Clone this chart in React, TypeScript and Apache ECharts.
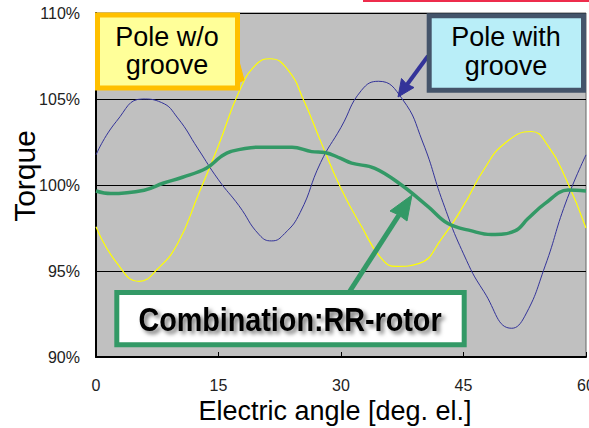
import React, { useEffect, useRef } from "react";
import * as echarts from "echarts";

// Pole with groove
const withGrooveAngles = [0, 2.5, 5.7, 8, 10, 12.5, 15, 17.5, 20, 21.5, 23.1, 25, 27.5, 30, 32.5, 34.6, 37.5, 40, 42.5, 45, 47.5, 50.9, 52.5, 55, 57.5, 60];
const withGrooveValues = [101.75, 103.7, 105.0, 104.8, 103.9, 102.1, 100.3, 98.8, 97.1, 96.75, 97.18, 98.4, 101.3, 103.35, 105.5, 106.03, 105.0, 102.5, 98.97, 96.0, 93.8, 91.67, 92.37, 95.3, 98.95, 101.75];
// Pole without groove
const withoutGrooveAngles = [0, 2.5, 5.3, 7.5, 10, 12.5, 15, 17.5, 19.5, 21.3, 23.5, 25.5, 27.5, 30, 32.5, 35, 36.8, 39.5, 42.5, 45, 47.5, 50, 53.3, 55.4, 57.5, 60];
const withoutGrooveValues = [97.57, 95.5, 94.4, 95.1, 96.6, 99.4, 102.3, 105.4, 106.95, 107.34, 106.7, 104.85, 102.55, 99.8, 97.6, 95.7, 95.27, 95.43, 97.0, 98.8, 100.9, 102.4, 103.11, 102.24, 100.4, 97.5];
// Combination: RR-rotor
const combinationAngles = [0, 1.8, 5.9, 8.2, 10.6, 13.5, 15.3, 16.5, 19.9, 24, 26.4, 28, 29.9, 31.3, 34.15, 37.4, 40.7, 43.1, 46, 48.4, 51.3, 52.9, 55, 57.8, 60];
const combinationValues = [99.65, 99.5, 99.7, 100.1, 100.45, 100.97, 101.65, 101.95, 102.2, 102.2, 101.94, 101.89, 101.56, 101.27, 100.97, 100.0, 98.73, 97.76, 97.33, 97.12, 97.33, 98.05, 98.93, 99.71, 99.65];

const yTicks = { min: 90, max: 110, interval: 5 };
const xTicks = { min: 0, max: 60, interval: 15 };

const pair = (xs: number[], vals: number[]) => xs.map((a, i) => [a, vals[i]]);

export default function App() {
  const ref = useRef<HTMLDivElement>(null);
  useEffect(() => {
    if (!ref.current) return;
    const chart = echarts.init(ref.current, undefined, { renderer: "svg" });
    const sans = "'Liberation Sans', Arial, sans-serif";
    chart.setOption({
      animation: false,
      backgroundColor: "#ffffff",
      grid: {
        left: 96,
        right: 3,
        top: 13,
        bottom: 71,
        containLabel: false,
        outerBoundsMode: "none",
        show: true,
        backgroundColor: "#c0c0c0",
        borderColor: "#666666",
        borderWidth: 1,
      },
      xAxis: {
        type: "value",
        min: xTicks.min,
        max: xTicks.max,
        interval: xTicks.interval,
        axisLine: { show: true, lineStyle: { color: "#000", width: 2 } },
        axisTick: { show: true, inside: true, length: 5, lineStyle: { color: "#000" } },
        splitLine: { show: false },
        axisLabel: { fontSize: 16, fontFamily: sans, color: "#222", margin: 20 },
      },
      yAxis: {
        type: "value",
        min: yTicks.min,
        max: yTicks.max,
        interval: yTicks.interval,
        axisLine: { show: true, lineStyle: { color: "#000", width: 2 } },
        axisTick: { show: true, inside: true, length: 5, lineStyle: { color: "#000" } },
        splitLine: { show: true, lineStyle: { color: "#000", width: 1 } },
        axisLabel: { fontSize: 16, fontFamily: sans, color: "#222", margin: 16, formatter: "{value}%" },
      },
      series: [
        {
          name: "Pole with groove",
          type: "line",
          data: pair(withGrooveAngles, withGrooveValues),
          smooth: 0.5,
          showSymbol: false,
          lineStyle: { color: "#333399", width: 1 },
        },
        {
          name: "Pole w/o groove",
          type: "line",
          data: pair(withoutGrooveAngles, withoutGrooveValues),
          smooth: 0.5,
          showSymbol: false,
          lineStyle: { color: "#ffff00", width: 1.2 },
        },
        {
          name: "Combination:RR-rotor",
          type: "line",
          data: pair(combinationAngles, combinationValues),
          smooth: 0.4,
          showSymbol: false,
          lineStyle: { color: "#339966", width: 3.5 },
        },
      ],
      graphic: [
        { type: "line", z: 100, shape: { x1: 363, y1: 1, x2: 589, y2: 1 }, style: { stroke: "#ee2c4c", lineWidth: 2 } },
        {
          type: "text",
          z: 100,
          x: 24,
          y: 176,
          rotation: Math.PI / 2,
          style: { text: "Torque", fontSize: 30, fontFamily: sans, fill: "#000", align: "center", verticalAlign: "middle" },
        },
        {
          type: "text",
          z: 100,
          x: 335,
          y: 411,
          style: { text: "Electric angle [deg. el.]", fontSize: 27, fontFamily: sans, fill: "#000", align: "center", verticalAlign: "middle" },
        },
        // Yellow callout
        {
          type: "polygon",
          z: 100,
          shape: { points: [[236, 50], [244, 80], [236, 84]] },
          style: { fill: "#ffc000", stroke: "#ffc000", lineWidth: 1 },
        },
        {
          type: "rect",
          z: 101,
          shape: { x: 97.5, y: 15, width: 140, height: 73 },
          style: { fill: "#ffff99", stroke: "#ffc000", lineWidth: 5 },
        },
        {
          type: "text",
          z: 102,
          x: 167,
          y: 37,
          style: { text: "Pole w/o", fontSize: 27, fontFamily: sans, fill: "#000", align: "center", verticalAlign: "middle" },
        },
        {
          type: "text",
          z: 102,
          x: 167,
          y: 65,
          style: { text: "groove", fontSize: 27, fontFamily: sans, fill: "#000", align: "center", verticalAlign: "middle" },
        },
        // Cyan callout
        { type: "line", z: 100, shape: { x1: 428, y1: 56, x2: 406, y2: 86 }, style: { stroke: "#333399", lineWidth: 4 } },
        {
          type: "polygon",
          z: 100,
          shape: { points: [[398, 97], [401.5, 78.5], [406.5, 84], [414, 87.5]] },
          style: { fill: "#333399", stroke: "#333399", lineWidth: 1 },
        },
        {
          type: "rect",
          z: 101,
          shape: { x: 429.2, y: 15.8, width: 154.3, height: 74.5 },
          style: { fill: "#b9eef8", stroke: "#44546a", lineWidth: 5 },
        },
        {
          type: "text",
          z: 102,
          x: 506,
          y: 37,
          style: { text: "Pole with", fontSize: 27, fontFamily: sans, fill: "#000", align: "center", verticalAlign: "middle" },
        },
        {
          type: "text",
          z: 102,
          x: 506,
          y: 66,
          style: { text: "groove", fontSize: 27, fontFamily: sans, fill: "#000", align: "center", verticalAlign: "middle" },
        },
        // Green callout
        { type: "line", z: 100, shape: { x1: 348, y1: 294, x2: 399, y2: 215 }, style: { stroke: "#339966", lineWidth: 5 } },
        {
          type: "polygon",
          z: 100,
          shape: { points: [[412, 195], [407, 221], [399, 215], [390, 211]] },
          style: { fill: "#339966", stroke: "#339966", lineWidth: 1 },
        },
        {
          type: "rect",
          z: 101,
          shape: { x: 116.8, y: 292.5, width: 347.4, height: 52.3 },
          style: { fill: "#ffffff", stroke: "#339966", lineWidth: 5 },
        },
        {
          type: "text",
          z: 102,
          x: 290,
          y: 320,
          scaleX: 0.845,
          style: {
            text: "Combination:RR-rotor",
            fontSize: 34,
            fontWeight: "bold",
            fontFamily: sans,
            fill: "#000",
            align: "center",
            verticalAlign: "middle",
            textShadowColor: "rgba(0,0,0,0.55)",
            textShadowBlur: 4,
            textShadowOffsetX: 3,
            textShadowOffsetY: 3,
          },
        },
      ],
    });
    return () => chart.dispose();
  }, []);
  return <div ref={ref} style={{ position: "absolute", left: 0, top: 0, width: 589, height: 428 }} />;
}
